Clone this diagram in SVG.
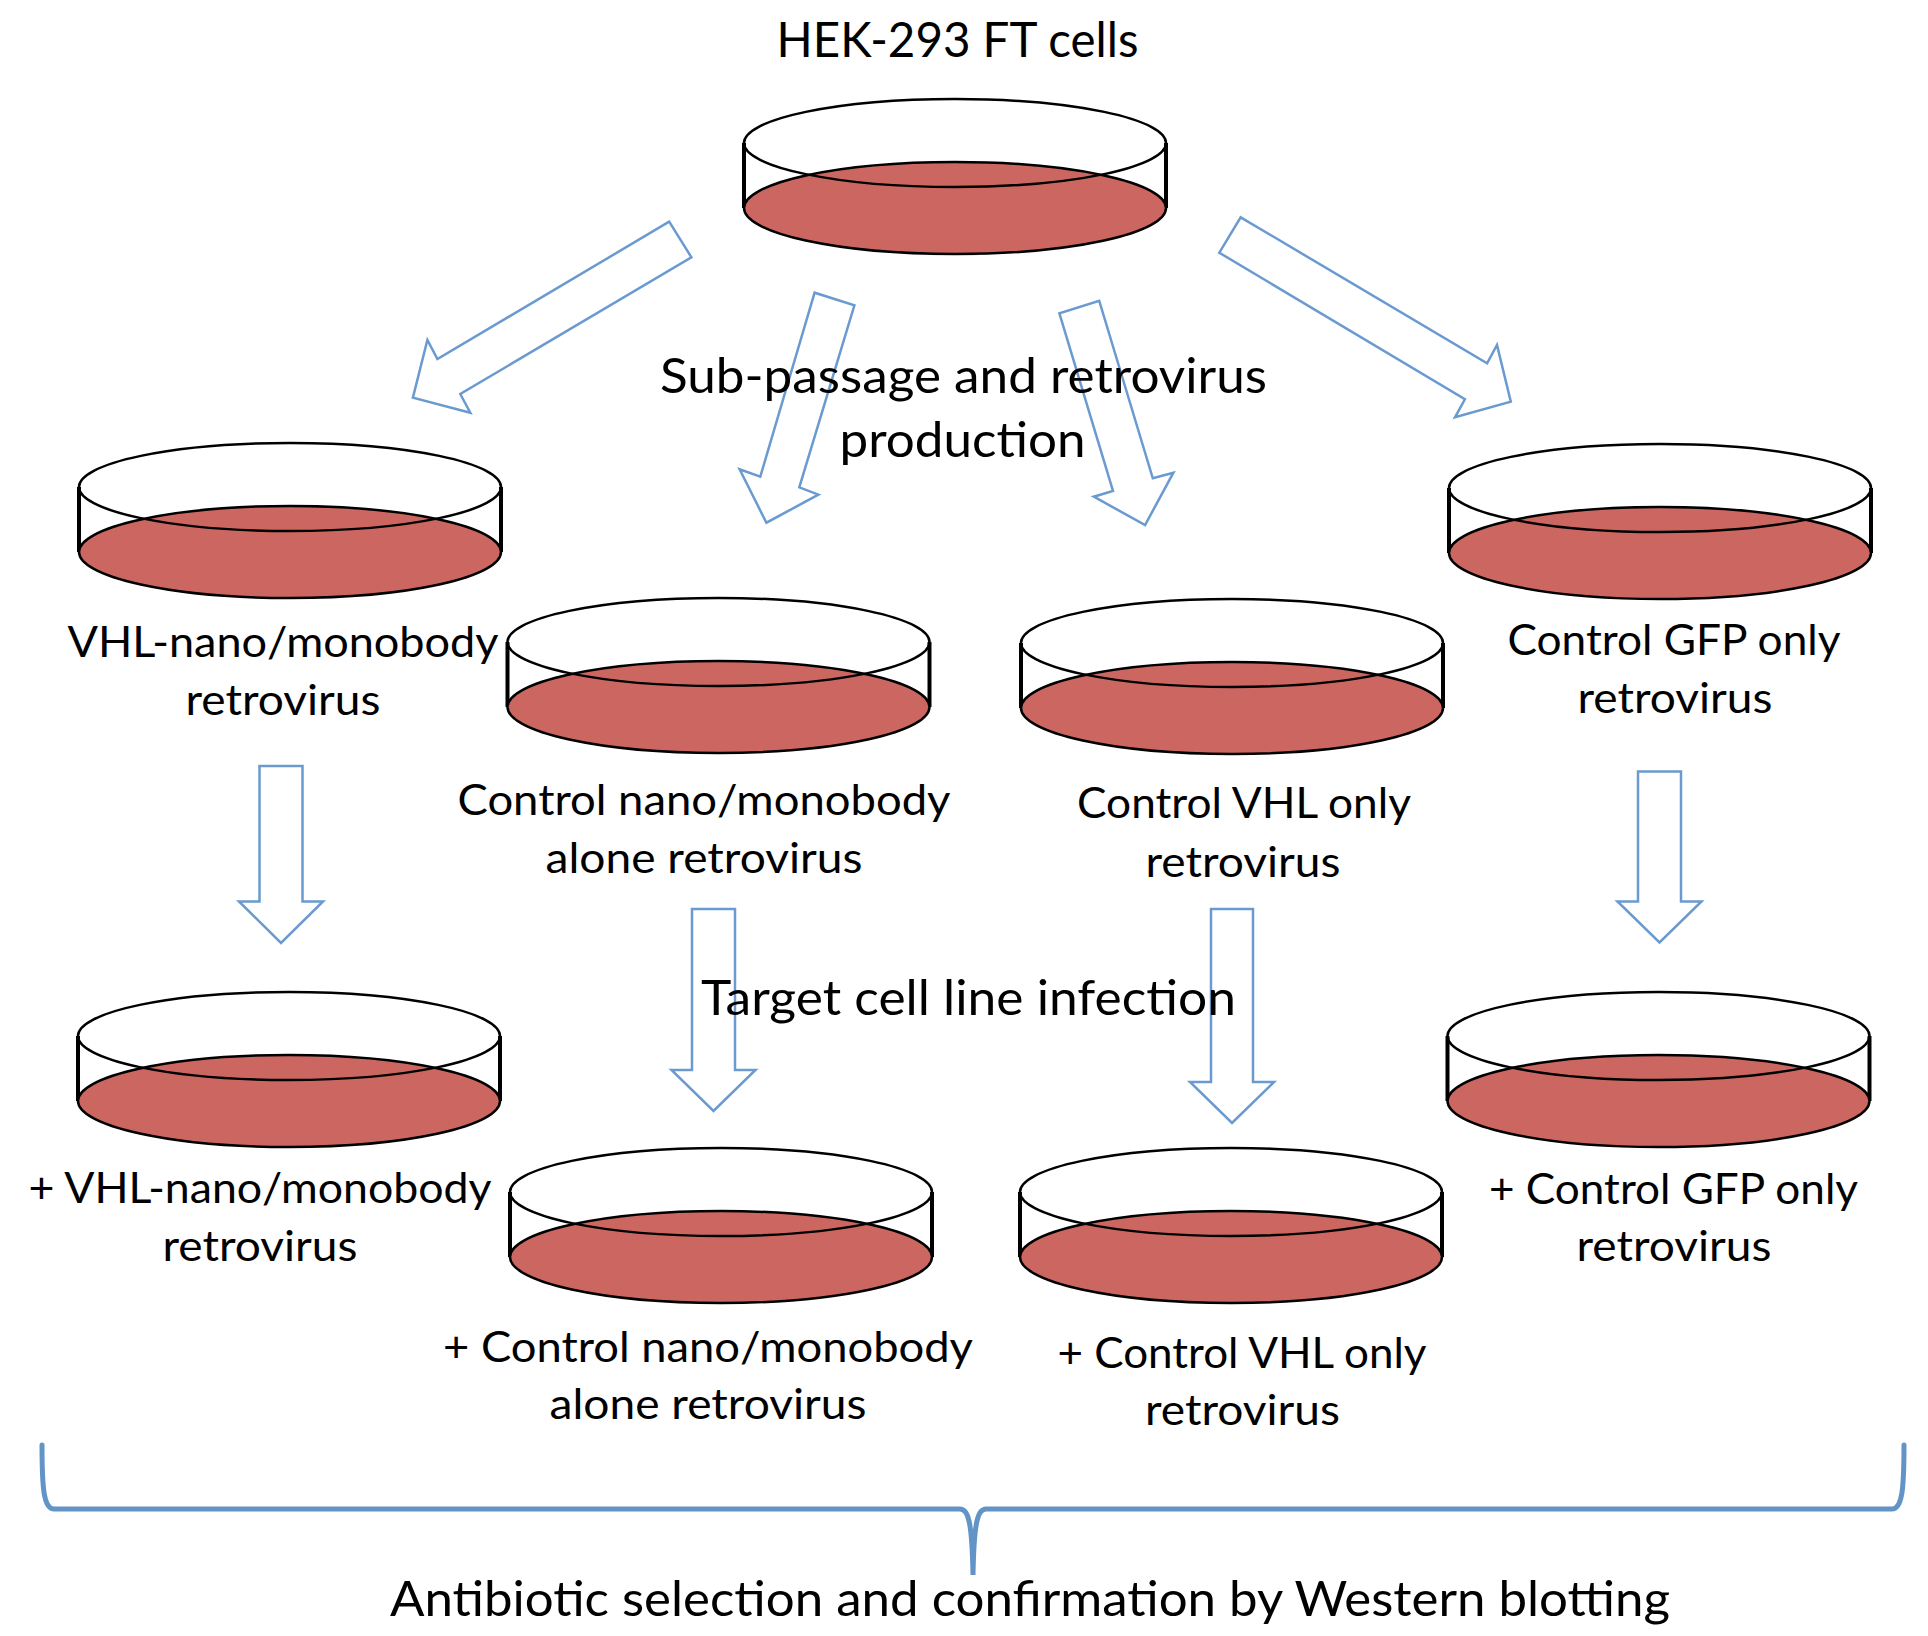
<svg xmlns="http://www.w3.org/2000/svg" width="1928" height="1636" viewBox="0 0 1928 1636">
<style>
.lid{fill:none;stroke:#000;stroke-width:2.5}
.media{fill:#CC6660;stroke:#000;stroke-width:2.5}
.wall{stroke:#000;stroke-width:4}
.arrow{fill:none;stroke:#6A9AD0;stroke-width:2.5;stroke-linejoin:miter}
.brace{fill:none;stroke:#6394C8;stroke-width:5;stroke-linecap:round}
.lbl{font-family:Lato,"Open Sans","Liberation Sans",sans-serif;font-size:43px;fill:#000;text-anchor:middle}
.ttl{font-size:48.5px}
</style>
<defs>
<g id="dish">
<line class="wall" x1="-211" y1="0" x2="-211" y2="65"/>
<line class="wall" x1="211" y1="0" x2="211" y2="65"/>
<ellipse class="media" cx="0" cy="65" rx="211" ry="46"/>
<ellipse class="lid" cx="0" cy="0" rx="211" ry="44"/>
</g>
</defs>
<rect width="1928" height="1636" fill="#fff"/>

<g id="connectors">
<polygon class="arrow" points="669.2,221.7 437.4,359 427.4,340 412.9,397.7 470.3,412.7 460.3,394 691.4,257.3"/>
<polygon class="arrow" points="814.6,292.7 760.3,476.7 739.6,469.3 766.4,522.7 818.4,494.7 799.3,487.3 854.4,305.3"/>
<polygon class="arrow" points="1059.4,313.3 1113,491 1093.8,496.7 1145.1,525 1173.4,472.7 1152.8,478.3 1099.2,300.7"/>
<polygon class="arrow" points="1240.7,217.3 1487.1,363.3 1497,345 1510.8,401.7 1455,417.3 1464.9,399.3 1219.3,252.7"/>
<polygon class="arrow" points="259.5,766 302.5,766 302.5,901.5 323,901.5 281,943 239,901.5 259.5,901.5"/>
<polygon class="arrow" points="1638,771.5 1681,771.5 1681,901.5 1701.5,901.5 1659.5,942.5 1617.5,901.5 1638,901.5"/>
<polygon class="arrow" points="692,909 735,909 735,1070 755.5,1070 713.5,1111 671.5,1070 692,1070"/>
<polygon class="arrow" points="1211,909 1253,909 1253,1082 1274,1082 1232,1123 1190,1082 1211,1082"/>
<path class="brace" d="M42,1445 C42,1490 44,1509 54,1509 L960,1509 C968,1509 972,1520 973,1575 C974,1520 978,1509 986,1509 L1892,1509 C1902,1509 1904,1490 1904,1445"/>
</g>

<g id="titles">
<text class="lbl ttl" x="957.5" y="57" textLength="362" lengthAdjust="spacingAndGlyphs">HEK-293 FT cells</text>
<text class="lbl ttl" x="963.5" y="393" textLength="607" lengthAdjust="spacingAndGlyphs">Sub-passage and retrovirus</text>
<text class="lbl ttl" x="962.5" y="457" textLength="246" lengthAdjust="spacingAndGlyphs">production</text>
<text class="lbl ttl" x="968.5" y="1015" textLength="535" lengthAdjust="spacingAndGlyphs">Target cell line infection</text>
<text class="lbl ttl" x="1030" y="1616" textLength="1280" lengthAdjust="spacingAndGlyphs">Antibiotic selection and confirmation by Western blotting</text>
</g>

<g id="node-hek">
<use href="#dish" x="955" y="143"/>
</g>
<g id="node-vhl-nano">
<use href="#dish" x="290" y="487"/>
<text class="lbl" x="283" y="657" textLength="431" lengthAdjust="spacingAndGlyphs">VHL-nano/monobody</text>
<text class="lbl" x="283" y="715" textLength="195" lengthAdjust="spacingAndGlyphs">retrovirus</text>
</g>
<g id="node-ctrl-nano">
<use href="#dish" x="718.5" y="642"/>
<text class="lbl" x="704" y="815" textLength="493" lengthAdjust="spacingAndGlyphs">Control nano/monobody</text>
<text class="lbl" x="704" y="873" textLength="317" lengthAdjust="spacingAndGlyphs">alone retrovirus</text>
</g>
<g id="node-ctrl-vhl">
<use href="#dish" x="1232" y="643"/>
<text class="lbl" x="1244" y="818" textLength="334" lengthAdjust="spacingAndGlyphs">Control VHL only</text>
<text class="lbl" x="1243" y="877" textLength="195" lengthAdjust="spacingAndGlyphs">retrovirus</text>
</g>
<g id="node-ctrl-gfp">
<use href="#dish" x="1660" y="488"/>
<text class="lbl" x="1674" y="655" textLength="333" lengthAdjust="spacingAndGlyphs">Control GFP only</text>
<text class="lbl" x="1675" y="713" textLength="195" lengthAdjust="spacingAndGlyphs">retrovirus</text>
</g>
<g id="node-t-vhl-nano">
<use href="#dish" x="289" y="1036"/>
<text class="lbl" x="260" y="1202.5" textLength="463" lengthAdjust="spacingAndGlyphs">+ VHL-nano/monobody</text>
<text class="lbl" x="260" y="1261" textLength="195" lengthAdjust="spacingAndGlyphs">retrovirus</text>
</g>
<g id="node-t-ctrl-nano">
<use href="#dish" x="721" y="1192"/>
<text class="lbl" x="708" y="1362" textLength="530" lengthAdjust="spacingAndGlyphs">+ Control nano/monobody</text>
<text class="lbl" x="708" y="1419" textLength="317" lengthAdjust="spacingAndGlyphs">alone retrovirus</text>
</g>
<g id="node-t-ctrl-vhl">
<use href="#dish" x="1231" y="1192"/>
<text class="lbl" x="1242" y="1368" textLength="369" lengthAdjust="spacingAndGlyphs">+ Control VHL only</text>
<text class="lbl" x="1242.5" y="1425" textLength="195" lengthAdjust="spacingAndGlyphs">retrovirus</text>
</g>
<g id="node-t-ctrl-gfp">
<use href="#dish" x="1658.5" y="1036"/>
<text class="lbl" x="1673.5" y="1203.5" textLength="369" lengthAdjust="spacingAndGlyphs">+ Control GFP only</text>
<text class="lbl" x="1674" y="1261" textLength="195" lengthAdjust="spacingAndGlyphs">retrovirus</text>
</g>
</svg>
